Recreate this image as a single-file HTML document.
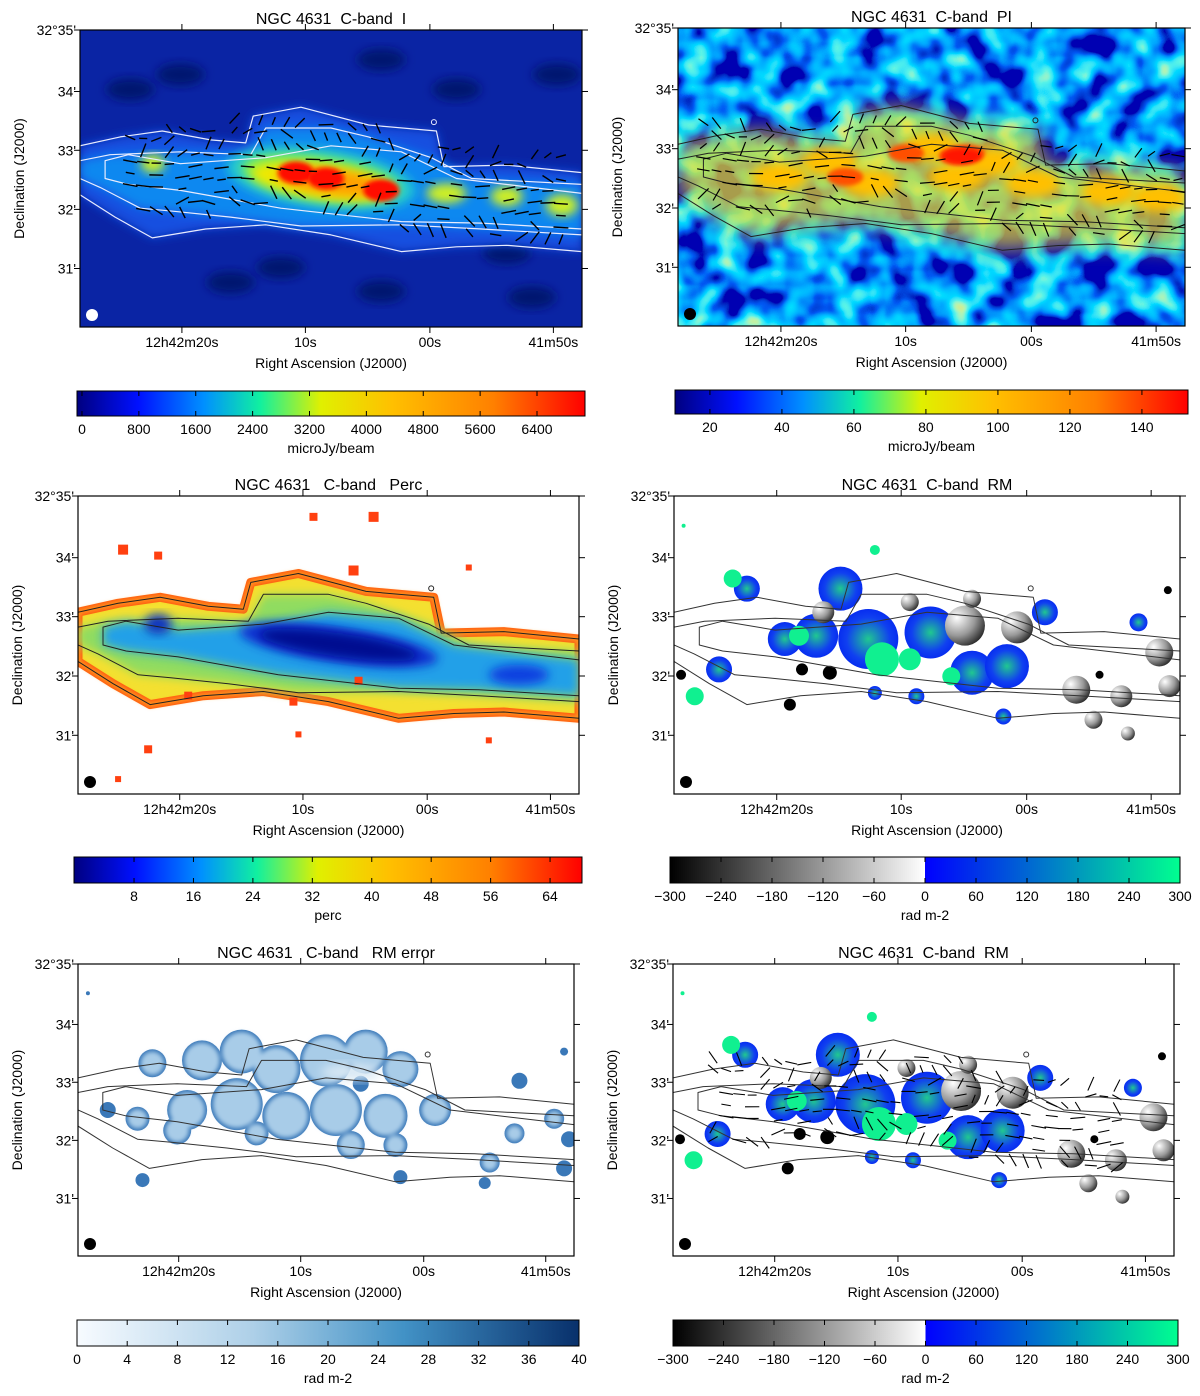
<!DOCTYPE html>
<html><head><meta charset="utf-8">
<style>
html,body{margin:0;padding:0;background:#fff;}
svg{display:block;font-family:"Liberation Sans",Arial,sans-serif;}
</style></head>
<body>
<svg id="fig" width="1200" height="1396" viewBox="0 0 1200 1396" xmlns="http://www.w3.org/2000/svg">
<defs>
<filter id="b2" x="-20%" y="-20%" width="140%" height="140%"><feGaussianBlur stdDeviation="2"/></filter>
<filter id="b5" x="-30%" y="-30%" width="160%" height="160%"><feGaussianBlur stdDeviation="5"/></filter>
<filter id="b10" x="-40%" y="-40%" width="180%" height="180%"><feGaussianBlur stdDeviation="10"/></filter>
<filter id="noise" x="0" y="0" width="100%" height="100%">
 <feTurbulence type="fractalNoise" baseFrequency="0.035" numOctaves="2" seed="7"/>
 <feColorMatrix type="matrix" values="1.7 0 0 0 -0.55  1.7 0 0 0 -0.55  1.7 0 0 0 -0.55  0 0 0 0 1"/>
 <feComponentTransfer>
  <feFuncR type="table" tableValues="0 0 0 0 0.1 0.5 0.9"/>
  <feFuncG type="table" tableValues="0 0.1 0.4 0.7 0.9 0.9 0.7"/>
  <feFuncB type="table" tableValues="0.45 0.9 1 1 0.8 0.4 0.1"/>
 </feComponentTransfer>
</filter>
<linearGradient id="jet" x1="0" x2="1" y1="0" y2="0">
 <stop offset="0" stop-color="#000080"/><stop offset="0.12" stop-color="#0010ff"/>
 <stop offset="0.25" stop-color="#0090ff"/><stop offset="0.36" stop-color="#10f0a0"/>
 <stop offset="0.48" stop-color="#e0f000"/><stop offset="0.62" stop-color="#ffc000"/>
 <stop offset="0.82" stop-color="#ff8000"/><stop offset="1" stop-color="#ff0000"/>
</linearGradient>
<linearGradient id="rmg" x1="0" x2="1" y1="0" y2="0">
 <stop offset="0" stop-color="#000"/><stop offset="0.5" stop-color="#fff"/>
 <stop offset="0.5" stop-color="#0000ff"/><stop offset="1" stop-color="#00ff90"/>
</linearGradient>
<linearGradient id="blues" x1="0" x2="1" y1="0" y2="0">
 <stop offset="0" stop-color="#f7fbff"/><stop offset="0.35" stop-color="#aed0e8"/>
 <stop offset="0.65" stop-color="#4292c6"/><stop offset="1" stop-color="#08306b"/>
</linearGradient>
<radialGradient id="grey" cx="0.3" cy="0.3" r="0.9"><stop offset="0" stop-color="#fff"/><stop offset="0.5" stop-color="#999"/><stop offset="1" stop-color="#000"/></radialGradient>
<radialGradient id="bluegreen" cx="0.5" cy="0.5" r="0.6"><stop offset="0" stop-color="#20c890"/><stop offset="0.6" stop-color="#1040f0"/><stop offset="1" stop-color="#0020f0"/></radialGradient>
</defs>
</svg>
<script>
// ---- data arrays ----
const yTickLabels = ["32°35'", "34'", "33'", "32'", "31'"];
const yTickFrac = [0, 0.207, 0.405, 0.604, 0.803];
const xTickLabels = ["12h42m20s", "10s", "00s", "41m50s"];
const xTickFrac = [0.203, 0.449, 0.697, 0.943];
const cbITicks = [0, 800, 1600, 2400, 3200, 4000, 4800, 5600, 6400];
const cbPITicks = [20, 40, 60, 80, 100, 120, 140];
const cbPercTicks = [8, 16, 24, 32, 40, 48, 56, 64];
const cbRMTicks = [-300, -240, -180, -120, -60, 0, 60, 120, 180, 240, 300];
const cbErrTicks = [0, 4, 8, 12, 16, 20, 24, 28, 32, 36, 40];
const cOuterTop = [[0,.39],[.08,.36],[.164,.34],[.26,.37],[.33,.38],[.345,.29],[.44,.26],[.575,.32],[.71,.34],[.725,.46],[.85,.455],[1,.48]];
const cOuterBot = [[0,.555],[.07,.63],[.144,.70],[.25,.67],[.37,.656],[.5,.69],[.64,.746],[.75,.73],[.85,.725],[1,.746]];
const cMidTop = [[0,.44],[.06,.42],[.2,.41],[.34,.42],[.37,.33],[.5,.33],[.575,.36],[.70,.43],[.78,.5],[1,.52]];
const cMidBot = [[0,.5],[.04,.53],[.12,.6],[.185,.61],[.3,.63],[.44,.66],[.64,.656],[.8,.67],[1,.69]];
const cInTop = [[.05,.44],[.096,.42],[.2,.45],[.37,.43],[.5,.39],[.64,.41],[.75,.5],[1,.55]];
const cInBot = [[.05,.5],[.096,.52],[.2,.54],[.4,.6],[.64,.645],[.8,.65],[1,.67]];
const rmBlobs = [
 [.329,.311,22,'b'],[.384,.48,30,'b'],[.281,.469,22,'b'],[.507,.458,26,'b'],[.589,.593,22,'b'],
 [.658,.571,22,'b'],[.219,.48,17,'b'],[.144,.311,13,'b'],[.733,.39,13,'b'],[.918,.424,9,'b'],
 [.651,.74,8,'b'],[.479,.672,8,'b'],[.397,.661,7,'b'],[.089,.582,13,'b'],
 [.411,.548,17,'g'],[.247,.469,10,'g'],[.041,.672,9,'g'],[.397,.181,5,'g'],[.548,.605,9,'g'],
 [.116,.277,9,'g'],[.466,.548,11,'g'],[.019,.1,2,'g'],
 [.575,.435,20,'k'],[.678,.441,16,'k'],[.295,.39,11,'k'],[.466,.356,9,'k'],[.589,.345,9,'k'],
 [.795,.65,14,'k'],[.884,.672,11,'k'],[.829,.751,9,'k'],[.959,.525,14,'k'],[.979,.638,11,'k'],
 [.253,.582,6,'K'],[.308,.593,7,'K'],[.229,.7,6,'K'],[.976,.316,4,'K'],[.897,.797,7,'k'],[.014,.6,5,'K'],[.841,.6,4,'K']
];
const errBlobs = [
 [.15,.34,14],[.25,.33,20],[.33,.30,22],[.40,.36,24],[.50,.33,26],[.58,.30,22],[.65,.36,18],
 [.22,.5,20],[.32,.48,26],[.42,.52,24],[.52,.50,26],[.62,.52,22],[.72,.5,16],
 [.12,.53,12],[.06,.5,8],[.2,.57,14],[.55,.62,14],[.64,.62,12],[.36,.58,12],
 [.89,.4,8],[.96,.53,10],[.88,.58,10],[.99,.6,8],[.83,.68,10],[.98,.7,8],[.65,.73,7],[.82,.75,6],[.13,.74,7],[.57,.41,8],[.98,.3,4],[.02,.1,2]
];
const NS = "http://www.w3.org/2000/svg";
const fig = document.getElementById('fig');
function el(tag, attrs, parent){ const e=document.createElementNS(NS,tag); for(const k in attrs) e.setAttribute(k,attrs[k]); (parent||fig).appendChild(e); return e; }
function txt(s, x, y, size, anchor, parent){ const t=el('text',{x:x,y:y,'font-size':size,'text-anchor':anchor||'middle',fill:'#000'},parent); t.textContent=s; return t; }
function P(f,u,v){ return [f.x+u*f.w, f.y+v*f.h]; }
function pathOf(f, top, bot){ const pts=top.concat(bot.slice().reverse()).map(p=>P(f,p[0],p[1])); return 'M'+pts.map(p=>p[0].toFixed(1)+','+p[1].toFixed(1)).join('L')+'Z'; }
function vc(u){ return 0.47+0.12*u; }
function contours(f, g, color, w){
  [[cOuterTop,cOuterBot],[cMidTop,cMidBot],[cInTop,cInBot]].forEach((c,i)=>{
    const p=el('path',{d:pathOf(f,c[0],c[1]),fill:'none',stroke:color,'stroke-width':w||1,'stroke-linejoin':'round'},g);
    
    
  });
  const pp=P(f,.705,.31); el('circle',{cx:pp[0],cy:pp[1],r:2.5,fill:'none',stroke:color,'stroke-width':1},g);
}
function vectors(f, g, u0, u1, thick){
  for(let u=u0; u<=u1; u+=0.026){
    for(let dv=-0.16; dv<=0.16; dv+=0.04){
      const v=vc(u)+dv - (u>0.3&&u<0.6?0.05:0);
      const m = Math.sin(u*37+dv*53)*0.5+Math.cos(u*71-dv*29)*0.5;
      if(Math.abs(m)>0.5) continue;
      const ang = (Math.abs(dv)<0.07? 0.2*Math.sin(u*20) : 1.2*Math.sin(u*13+dv*40));
      const len = 4+3.5*Math.abs(Math.cos(u*17+dv*31));
      const c=P(f,u,v); const dx=Math.sin(ang)*len, dy=Math.cos(ang)*len;
      const L=el('line',{x1:c[0]-dy,y1:c[1]-dx,x2:c[0]+dy,y2:c[1]+dx,stroke:'#000','stroke-width':thick||1.3},g);
      
      
    }
  }
}
function frameAxes(f, title, name){
  const g=el('g',{});
  
  
  el('rect',{x:f.x,y:f.y,width:f.w,height:f.h,fill:'none',stroke:'#000','stroke-width':1.2},g);
  yTickFrac.forEach((fr,i)=>{
    const y=f.y+fr*f.h;
    el('line',{x1:f.x-6,y1:y,x2:f.x,y2:y,stroke:'#000'},g);
    el('line',{x1:f.x+f.w,y1:y,x2:f.x+f.w+6,y2:y,stroke:'#000'},g);
    const t=txt(yTickLabels[i], f.x-4, y+5, 14, 'end', g);
    
    
  });
  xTickFrac.forEach((fr,i)=>{
    const x=f.x+fr*f.w;
    el('line',{x1:x,y1:f.y-6,x2:x,y2:f.y,stroke:'#000'},g);
    el('line',{x1:x,y1:f.y+f.h,x2:x,y2:f.y+f.h+6,stroke:'#000'},g);
    const t=txt(xTickLabels[i], x, f.y+f.h+20, 14, 'middle', g);
    
    
  });
  const tt=txt(title, f.x+f.w/2, f.y-6, 16, 'middle', g);
  
  
  const xl=txt('Right Ascension (J2000)', f.x+f.w/2, f.y+f.h+41, 14, 'middle', g);
  
  
  const cx=f.x-56, cy=f.y+f.h/2;
  const yl=el('text',{x:cx,y:cy,'font-size':14,'text-anchor':'middle',transform:`rotate(-90 ${cx} ${cy})`},g);
  yl.textContent='Declination (J2000)';
  
  
}
function colorbar(b, grad, ticks, dmin, dmax, unit, name){
  const g=el('g',{});
  
  
  el('rect',{x:b.x,y:b.y,width:b.w,height:b.h,fill:'url(#'+grad+')',stroke:'#000','stroke-width':1},g);
  const sx=v=>b.x+(v-dmin)/(dmax-dmin)*b.w;
  ticks.forEach(v=>{
    const x=sx(v);
    el('line',{x1:x,y1:b.y+b.h-5,x2:x,y2:b.y+b.h,stroke:'#000'},g);
    el('line',{x1:x,y1:b.y,x2:x,y2:b.y+5,stroke:'#000'},g);
    const t=txt(String(v).replace('-','\u2212'), x, b.y+b.h+18, 14,'middle',g);
    
    
  });
  const u=txt(unit, b.x+b.w/2, b.y+b.h+37, 14,'middle',g);
  
  
}
function clipGroup(f,id,name){
  const cp=el('clipPath',{id:id}); el('rect',{x:f.x,y:f.y,width:f.w,height:f.h},cp);
  const g=el('g',{'clip-path':'url(#'+id+')'});
  
  
  return g;
}
function beam(f,g,col){ const c=P(f,0,1); el('circle',{cx:c[0]+12,cy:c[1]-12,r:6,fill:col},g); }
function ell(f,g,u,v,rx,ry,fill,filt,rot){ const c=P(f,u,v); const a={cx:c[0],cy:c[1],rx:rx,ry:ry,fill:fill}; if(filt)a.filter='url(#'+filt+')'; if(rot)a.transform=`rotate(${rot} ${c[0]} ${c[1]})`; return el('ellipse',a,g); }
function rmMap(f,g){
  rmBlobs.forEach(b=>{
    const c=P(f,b[0],b[1]);
    const fill = b[3]==='b'?'url(#bluegreen)': b[3]==='g'?'#10f090': b[3]==='K'?'#000':'url(#grey)';
    const e=el('circle',{cx:c[0],cy:c[1],r:b[2],fill:fill},g);
    
    
  });
}
const S='\u00a0\u00a0';
// Panel 1
const f1={x:80,y:30,w:502,h:297};
let g=clipGroup(f1,'c1','panel-total-intensity-map');
el('rect',{x:f1.x,y:f1.y,width:f1.w,height:f1.h,fill:'#0a24a4'},g);
[[.2,.15],[.6,.1],[.75,.2],[.3,.85],[.6,.88],[.85,.75],[.1,.2],[.95,.15],[.4,.8],[.9,.9]].forEach(p=>ell(f1,g,p[0],p[1],24,11,'#061470','b5'));
el('path',{d:pathOf(f1,cOuterTop,cOuterBot),fill:'#1450e0',filter:'url(#b5)'},g);
el('path',{d:pathOf(f1,cMidTop,cMidBot),fill:'#1088f0',filter:'url(#b5)'},g);
ell(f1,g,.48,.50,95,30,'#20c8d0','b5',8);
ell(f1,g,.48,.50,80,22,'#80f050','b5',8);
ell(f1,g,.48,.51,70,17,'#f0e800','b5',8);
ell(f1,g,.50,.51,55,13,'#ffa000','b5',8);
[[.43,.48],[.49,.50],[.6,.54]].forEach(p=>ell(f1,g,p[0],p[1],18,11,'#ff1000','b2'));
[[.145,.45,12,9],[.85,.56,16,10],[.96,.59,16,11],[.73,.55,20,10]].forEach(p=>ell(f1,g,p[0],p[1],p[2],p[3],'#d0f020','b5'));
contours(f1,g,'#e8ecff',1.2);
vectors(f1,g,.1,.98,1.4);
beam(f1,g,'#fff');
frameAxes(f1,'NGC 4631'+S+'C-band'+S+'I','panel-i');
colorbar({x:77,y:391,w:508,h:25},'jet',cbITicks,-70,7075,'microJy/beam','colorbar-i');
// Panel 2
const f2={x:678,y:28,w:507,h:298};
g=clipGroup(f2,'c2','panel-polarized-intensity-map');
el('rect',{x:f2.x,y:f2.y,width:f2.w,height:f2.h,fill:'#2080f0',filter:'url(#noise)'},g);
el('path',{d:pathOf(f2,cOuterTop,cOuterBot),fill:'#f0e020',opacity:.7,filter:'url(#b10)'},g);
[[.3,.45],[.38,.52],[.5,.4],[.55,.5],[.62,.45],[.7,.52],[.85,.55],[.95,.57],[.2,.5]].forEach(p=>ell(f2,g,p[0],p[1],28,14,'#ffc000','b5'));
[[.33,.5],[.45,.42],[.55,.43],[.57,.42]].forEach(p=>ell(f2,g,p[0],p[1],18,9,'#ff5000','b2'));
ell(f2,g,.56,.43,20,8,'#ff1800','b2');
contours(f2,g,'#222',1);
vectors(f2,g,.05,.99,1.2);
beam(f2,g,'#000');
frameAxes(f2,'NGC 4631'+S+'C-band'+S+'PI','panel-pi');
colorbar({x:675,y:390,w:513,h:24},'jet',cbPITicks,10.3,152.8,'microJy/beam','colorbar-pi');
// Panel 3
const f3={x:78,y:496,w:501,h:298};
g=clipGroup(f3,'c3','panel-polarization-fraction-map');
el('rect',{x:f3.x,y:f3.y,width:f3.w,height:f3.h,fill:'#fff'},g);
el('path',{d:pathOf(f3,cOuterTop,cOuterBot),fill:'#f4e030',stroke:'#ff5a10','stroke-width':9,'stroke-linejoin':'round'},g);
el('path',{d:pathOf(f3,cOuterTop,cOuterBot),fill:'none',stroke:'#ffa020','stroke-width':4,'stroke-linejoin':'round',filter:'url(#b2)'},g);
el('path',{d:pathOf(f3,cMidTop,cMidBot),fill:'#90dc60',filter:'url(#b5)'},g);
el('path',{d:pathOf(f3,cInTop,cInBot),fill:'#20a0e8',filter:'url(#b5)'},g);
ell(f3,g,.52,.5,100,18,'#1030d0','b5',8);
ell(f3,g,.52,.5,80,12,'#000890','b5',8);
ell(f3,g,.16,.43,14,10,'#1030c0','b5');
ell(f3,g,.88,.6,30,10,'#1040e0','b5');
[[.09,.18,5],[.16,.2,4],[.47,.07,4],[.59,.07,5],[.55,.25,5],[.78,.24,3],[.22,.67,4],[.43,.69,4],[.14,.85,4],[.44,.8,3],[.82,.82,3],[.08,.95,3],[.56,.62,4]].forEach(p=>{const c=P(f3,p[0],p[1]); el('rect',{x:c[0]-p[2],y:c[1]-p[2],width:p[2]*2,height:p[2]*2,fill:'#ff4010'},g);});
contours(f3,g,'#222',1);
beam(f3,g,'#000');
frameAxes(f3,'NGC 4631'+S+' C-band'+S+' Perc','panel-perc');
colorbar({x:74,y:857,w:508,h:26},'jet',cbPercTicks,-0.08,68.3,'perc','colorbar-perc');
// Panel 4
const f4={x:674,y:496,w:506,h:298};
g=clipGroup(f4,'c4','panel-rm-map');
el('rect',{x:f4.x,y:f4.y,width:f4.w,height:f4.h,fill:'#fff'},g);
rmMap(f4,g);
contours(f4,g,'#333',1);
beam(f4,g,'#000');
frameAxes(f4,'NGC 4631'+S+'C-band'+S+'RM','panel-rm');
colorbar({x:670,y:857,w:510,h:26},'rmg',cbRMTicks,-300,300,'rad m-2','colorbar-rm');
// Panel 5
const f5={x:78,y:964,w:496,h:292};
g=clipGroup(f5,'c5','panel-rm-error-map');
el('rect',{x:f5.x,y:f5.y,width:f5.w,height:f5.h,fill:'#fff'},g);
const ge=el('g',{},g);
errBlobs.forEach(b=>{const c=P(f5,b[0],b[1]); const e=el('circle',{cx:c[0],cy:c[1],r:b[2],fill:'#3a78b8'},ge);  });
const gi=el('g',{filter:'url(#b2)'},g);
errBlobs.forEach(b=>{if(b[2]>9){const c=P(f5,b[0],b[1]); el('circle',{cx:c[0],cy:c[1],r:b[2]-2.5,fill:'#a8cce8'},gi);}});
ell(f5,g,.55,.37,30,8,'#d8e8f4','b5');
contours(f5,g,'#333',1);
beam(f5,g,'#000');
frameAxes(f5,'NGC 4631'+S+' C-band'+S+'  RM error','panel-rm-error');
colorbar({x:77,y:1320,w:502,h:26},'blues',cbErrTicks,0,40,'rad m-2','colorbar-rm-error');
// Panel 6
const f6={x:673,y:964,w:501,h:292};
g=clipGroup(f6,'c6','panel-rm-vectors-map');
el('rect',{x:f6.x,y:f6.y,width:f6.w,height:f6.h,fill:'#fff'},g);
rmMap(f6,g);
contours(f6,g,'#333',1);
vectors(f6,g,.08,.9,1.1);
beam(f6,g,'#000');
frameAxes(f6,'NGC 4631'+S+'C-band'+S+'RM','panel-rm-vectors');
colorbar({x:673,y:1320,w:505,h:26},'rmg',cbRMTicks,-300,300,'rad m-2','colorbar-rm-vectors');
</script>
</body></html>
